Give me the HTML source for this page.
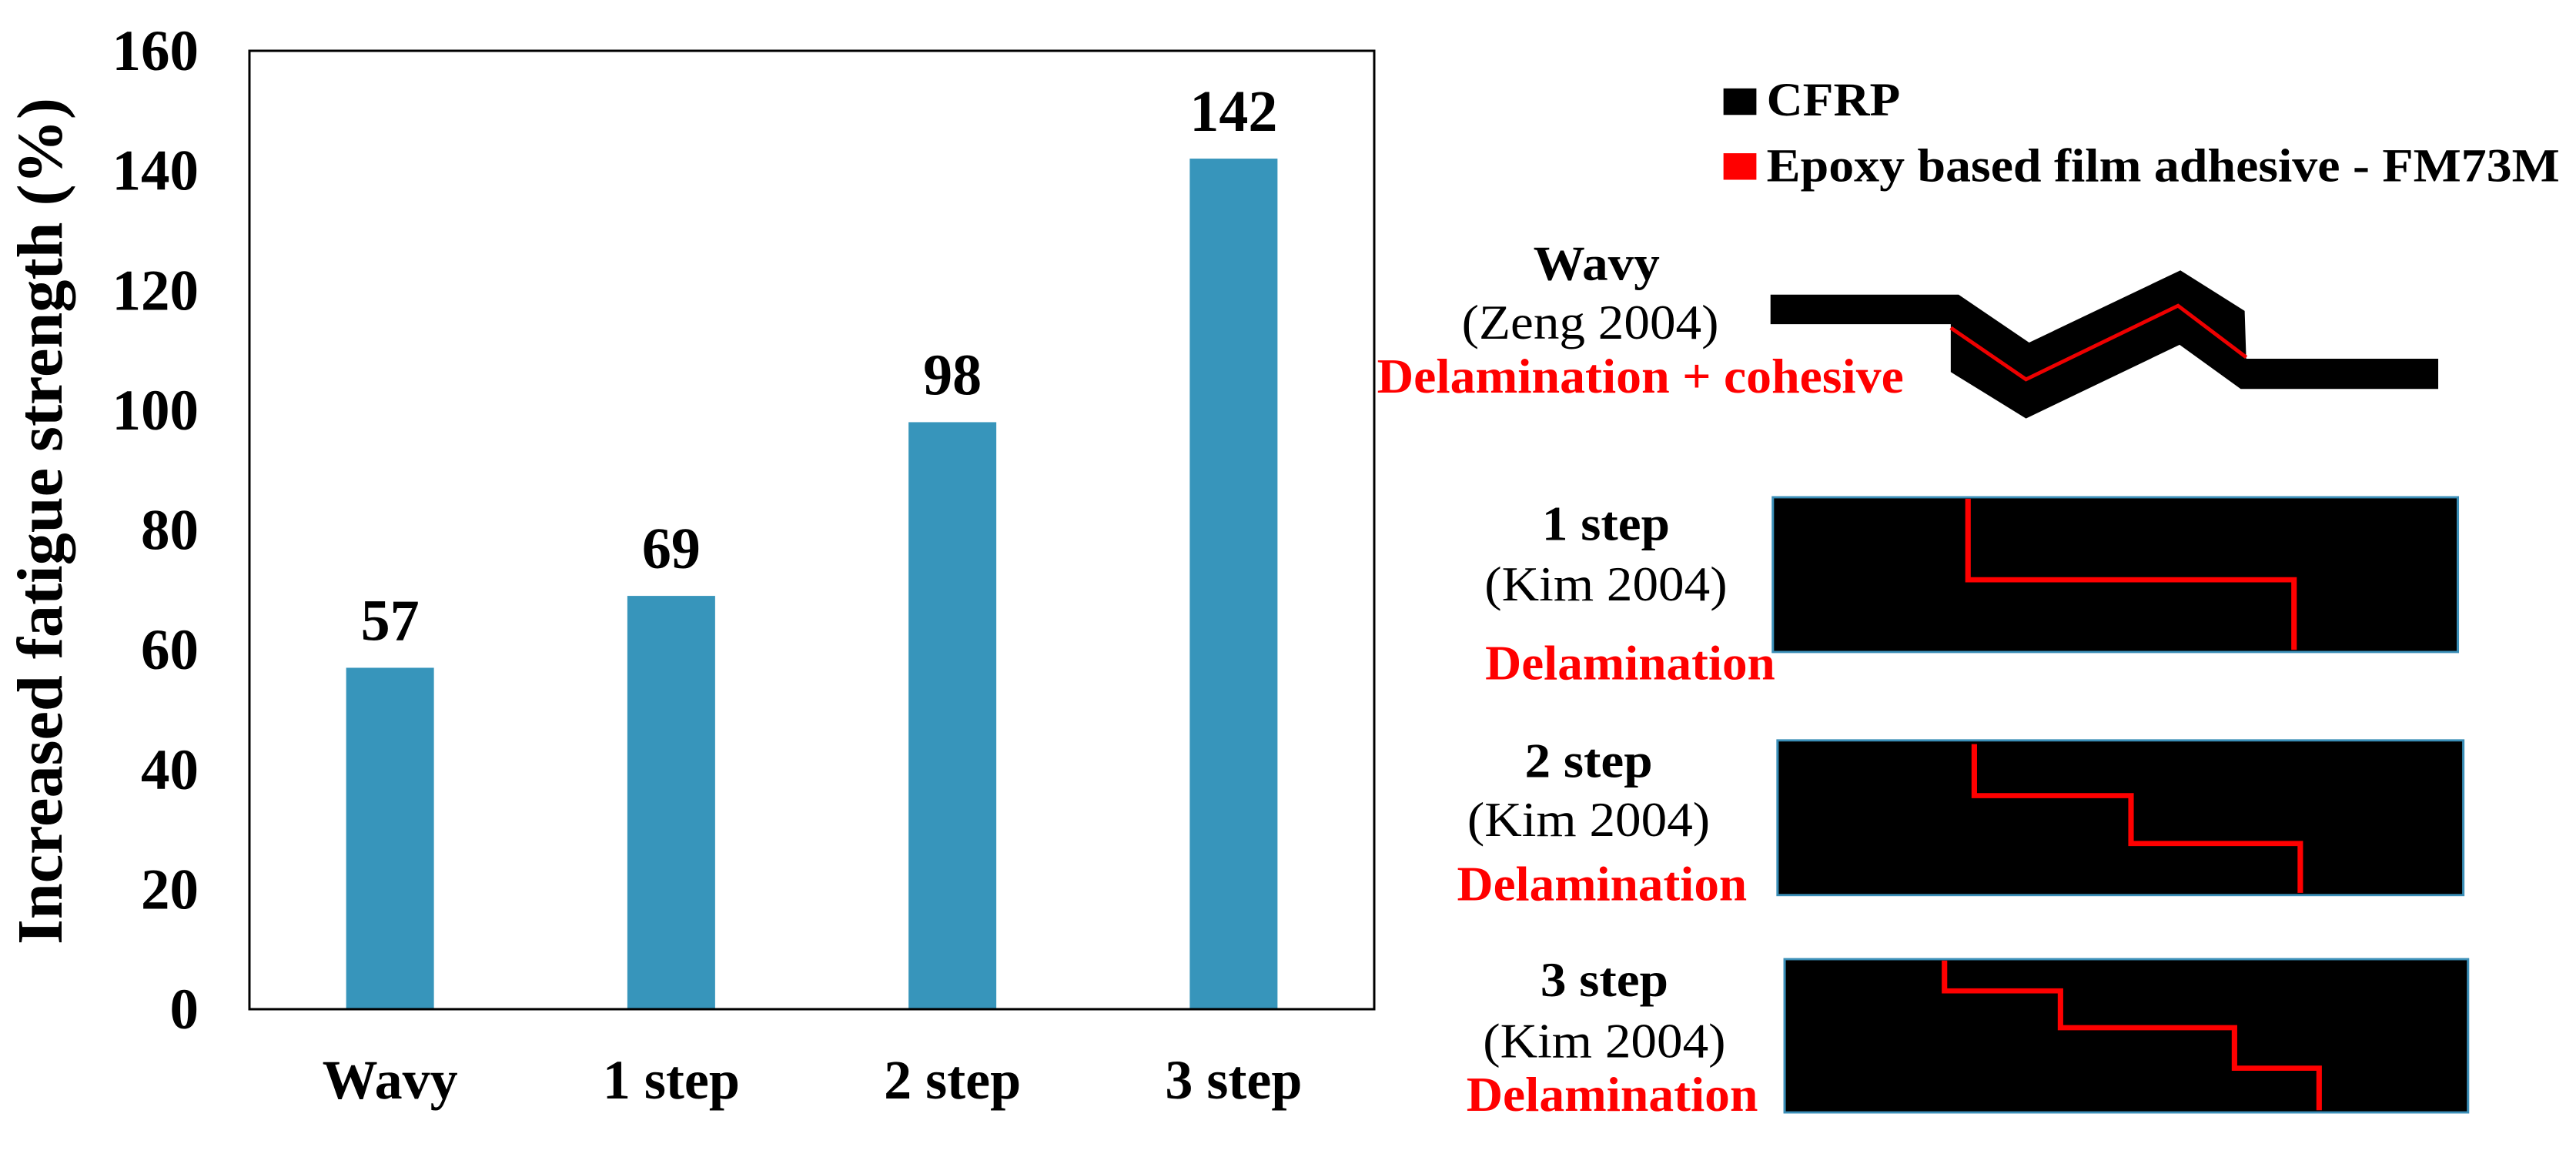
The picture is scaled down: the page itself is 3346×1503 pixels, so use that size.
<!DOCTYPE html>
<html><head><meta charset="utf-8"><style>
html,body{margin:0;padding:0;background:#fff;}
svg{display:block;font-family:"Liberation Serif","DejaVu Serif",serif;}
svg text{font-family:"Liberation Serif","DejaVu Serif",serif;}
</style></head><body>
<svg id="chart" width="3346" height="1503" viewBox="0 0 3346 1503" xmlns="http://www.w3.org/2000/svg" font-family="Liberation Serif, serif">
<g id="plot" font-family="Liberation Serif, serif"></g>
<g transform="translate(1750,0) scale(1.018,0.957)" font-family="Liberation Serif, serif" font-weight="bold">
  <rect x="480" y="120" width="42" height="36" fill="#000"/>
  <text x="535" y="157" font-size="64">CFRP</text>
  <rect x="480" y="208" width="42" height="36" fill="#f00"/>
  <text x="535" y="246" font-size="64" textLength="1012" lengthAdjust="spacingAndGlyphs">Epoxy based film adhesive - FM73M</text>

  <text x="318" y="380" font-size="66" text-anchor="middle">Wavy</text>
  <text x="310" y="460" font-size="66" font-weight="normal" text-anchor="middle">(Zeng 2004)</text>
  <text x="38" y="533" font-size="66" fill="#f00" textLength="672" lengthAdjust="spacingAndGlyphs">Delamination + cohesive</text>
  <polygon points="540,400 780,400 870,465 1063,367 1145,422 1147,487 1392,487 1392,528 1140,528 1062,468 866,568 770,505 770,440 540,440" fill="#000"/>
  <polyline points="770,445 866,515 1060,415 1147,485" fill="none" stroke="#e00" stroke-width="5"/>

  <text x="330" y="733" font-size="66" text-anchor="middle">1 step</text>
  <text x="330" y="815" font-size="66" font-weight="normal" text-anchor="middle">(Kim 2004)</text>
  <text x="176" y="922" font-size="66" fill="#f00" textLength="370" lengthAdjust="spacingAndGlyphs">Delamination</text>
  <rect x="543" y="675" width="874" height="210" fill="#000" stroke="#3b8fb8" stroke-width="3"/>
  <polyline points="792,677 792,787 1208,787 1208,882" fill="none" stroke="#f00" stroke-width="7"/>

  <text x="308" y="1055" font-size="66" text-anchor="middle">2 step</text>
  <text x="308" y="1135" font-size="66" font-weight="normal" text-anchor="middle">(Kim 2004)</text>
  <text x="140" y="1222" font-size="66" fill="#f00" textLength="370" lengthAdjust="spacingAndGlyphs">Delamination</text>
  <rect x="549" y="1005" width="875" height="210" fill="#000" stroke="#3b8fb8" stroke-width="3"/>
  <polyline points="800,1010 800,1080 1000,1080 1000,1145 1216,1145 1216,1212" fill="none" stroke="#f00" stroke-width="7"/>

  <text x="328" y="1352" font-size="66" text-anchor="middle">3 step</text>
  <text x="328" y="1435" font-size="66" font-weight="normal" text-anchor="middle">(Kim 2004)</text>
  <text x="152" y="1508" font-size="66" fill="#f00" textLength="372" lengthAdjust="spacingAndGlyphs">Delamination</text>
  <rect x="558" y="1302" width="872" height="208" fill="#000" stroke="#3b8fb8" stroke-width="3"/>
  <polyline points="762,1304 762,1345 910,1345 910,1395 1132,1395 1132,1450 1240,1450 1240,1507" fill="none" stroke="#f00" stroke-width="7"/>
</g>
</svg>
<script>
const categories = ["Wavy", "1 step", "2 step", "3 step"];
const values = [57, 69, 98, 142];
const valueLabels = ["57", "69", "98", "142"];
const yTicks = [0, 20, 40, 60, 80, 100, 120, 140, 160];

const NS = "http://www.w3.org/2000/svg";
const plot = document.getElementById("plot");
const L = 324, R = 1785, T = 66, B = 1311, yMax = 160;
const band = (R - L) / categories.length;
const barW = 114;
function xScale(i) { return L + (i + 0.5) * band; }
function yScale(v) { return B - v / yMax * (B - T); }
function mk(tag, attrs, text) {
  const e = document.createElementNS(NS, tag);
  for (const k in attrs) e.setAttribute(k, attrs[k]);
  if (text !== undefined) e.textContent = text;
  plot.appendChild(e);
  return e;
}
values.forEach((v, i) => {
  const b = mk("rect", { x: xScale(i) - barW / 2, y: yScale(v), width: barW, height: B - yScale(v), fill: "#3795bb" });
  
  
  const t = mk("text", { x: xScale(i), y: yScale(v) - 36, "font-size": 76, "font-weight": "bold", "text-anchor": "middle" }, valueLabels[i]);
  
  
  const c = mk("text", { x: xScale(i), y: 1427, "font-size": 72, "font-weight": "bold", "text-anchor": "middle" }, categories[i]);
  
  
});
yTicks.forEach(v => {
  const t = mk("text", { x: 258, y: yScale(v) + 25, "font-size": 75, "font-weight": "bold", "text-anchor": "end" }, String(v));
  
  
});
const frame = mk("rect", { x: L, y: T, width: R - L, height: B - T, fill: "none", stroke: "#000", "stroke-width": 3 });


const yt = mk("text", { x: 0, y: 0, "font-size": 84, "font-weight": "bold", "text-anchor": "middle", transform: "translate(80,677) rotate(-90)", textLength: 1100, lengthAdjust: "spacingAndGlyphs" }, "Increased fatigue strength (%)");


</script>
</body></html>
